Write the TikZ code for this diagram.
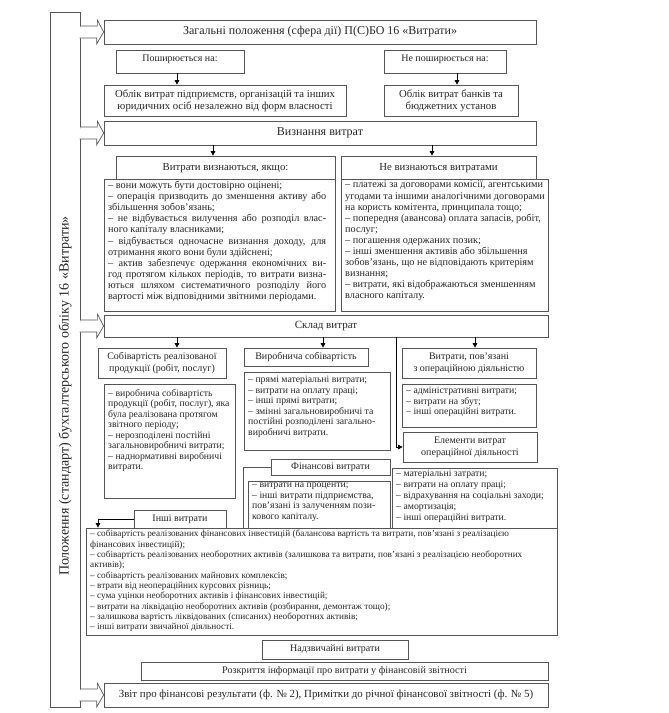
\documentclass[tikz,border=0pt]{standalone}
\usepackage{fontspec}
\setmainfont{Liberation Serif}
\usetikzlibrary{arrows.meta}
\definecolor{lc}{HTML}{555555}
\definecolor{tc}{HTML}{262626}
\newcommand{\mkbox}[7][]{\node[bx,minimum width={#5pt-#3pt},minimum height={#6pt-#4pt},#1] (#2) at ({(#3+#5)/2},{(#4+#6)/2}) {#7};}
\newcommand{\jl}[1]{\makebox[218pt][s]{#1}}
\newcommand{\blockarr}[1]{\draw[blk] (bar.east |- #1.west) ++(0,-6) -- ++(17,0) -- ++(0,-6) -- (#1.west) -- ++(-7,12) -- ++(0,-6) -- ++(-17,0);}
\begin{document}
\begin{tikzpicture}[x=1pt,y=-1pt,
 bx/.style={draw=lc,line width=0.7pt,fill=white,inner sep=0pt,text=tc,align=center},
 blk/.style={draw=lc,line width=0.7pt,fill=white},
 ln/.style={draw=lc,line width=0.7pt},
 arr/.style={draw=black,line width=0.7pt,-{Triangle[length=4.5pt,width=4.5pt]}},
 ttl/.style={font=\fontsize{12}{13.5}\selectfont},
 sk/.style={font=\fontsize{11}{13}\selectfont},
 hd/.style={font=\fontsize{10.75}{12}\selectfont},
 sh/.style={font=\fontsize{10}{11.7}\selectfont},
 zv/.style={font=\fontsize{10.9}{12}\selectfont},
 rz/.style={font=\fontsize{10.1}{12}\selectfont},
 tx/.style={inner sep=0pt,text=tc,anchor=north west,align=left},
 lsa/.style={tx,font=\fontsize{10.25}{11.1}\selectfont},
 lsb/.style={tx,font=\fontsize{9.75}{10.5}\selectfont},
 lse/.style={tx,font=\fontsize{9.75}{11}\selectfont},
 lsc/.style={tx,font=\fontsize{9.25}{10.33}\selectfont},
]
\useasboundingbox (0,0) rectangle (669,713);

% left bar
\mkbox{bar}{50}{12}{80}{707}{}
\node[text=tc,rotate=90,font=\fontsize{14}{16}\selectfont] (bart) at (65,396) {Положення (стандарт) бухгалтерського обліку 16 «Витрати»};

% section 1
\mkbox[ttl]{top}{104}{20}{536}{44}{Загальні положення (сфера дії) П(С)БО 16 «Витрати»}
\mkbox{posh}{116}{50}{244}{73}{}
\node[sh,text=tc] (posht) at (180,59) {Поширюється на:};
\mkbox{neposh}{384}{50}{506}{73}{}
\node[sh,text=tc] (neposht) at (445,59) {Не поширюється на:};
\mkbox[hd]{ob1}{104}{85}{346}{116}{Облік витрат підприємств, організацій та інших\\юридичних осіб незалежно від форм власності}
\mkbox[hd]{ob2}{384}{85}{518}{116}{Облік витрат банків та\\бюджетних установ}
\coordinate (xa) at (177,0);
\coordinate (xb) at (457,0);
\draw[arr] (posh.south -| xa) -- (ob1.north -| xa);
\draw[arr] (neposh.south -| xb) -- (ob2.north -| xb);

% section 2
\mkbox[ttl]{vyzn}{104}{121}{536}{145}{Визнання витрат}
\mkbox[hd]{h1}{116}{156}{335}{180}{Витрати визнаються, якщо:}
\mkbox[hd]{h2}{341}{156}{536}{180}{Не визнаються витратами}
\mkbox{l1}{104}{179}{335}{311}{}
\mkbox{l2}{341}{179}{548}{311}{}
\coordinate (xc) at (213,0);
\coordinate (xd) at (432,0);
\draw[arr] (vyzn.south -| xc) -- (h1.north -| xc);
\draw[arr] (vyzn.south -| xd) -- (h2.north -| xd);
\node[lsa] (l1t) at (108,181) {– вони можуть бути достовірно оцінені;\\
\jl{– операція призводить до зменшення активу або}\\
збільшення зобов’язань;\\
\jl{– не відбувається вилучення або розподіл влас-}\\
ного капіталу власниками;\\
\jl{– відбувається одночасне визнання доходу, для}\\
отримання якого вони були здійснені;\\
\jl{– актив забезпечує одержання економічних ви-}\\
\jl{год протягом кількох періодів, то витрати визна-}\\
\jl{ються шляхом систематичного розподілу його}\\
вартості між відповідними звітними періодами.};
\node[lsa] (l2t) at (345,181) {– платежі за договорами комісії, агентськими\\
угодами та іншими аналогічними договорами\\
на користь комітента, принципала тощо;\\
– попередня (авансова) оплата запасів, робіт,\\
послуг;\\
– погашення одержаних позик;\\
– інші зменшення активів або збільшення\\
зобов’язань, що не відповідають критеріям\\
визнання;\\
– витрати, які відображаються зменшенням\\
власного капіталу.};

% section 3
\mkbox[sk]{sklad}{104}{315}{548}{337}{Склад витрат}
\mkbox[sh]{sob}{98}{348}{226}{378}{Собівартість реалізованої\\продукції (робіт, послуг)}
\mkbox[sh]{vyr}{244}{348}{368}{366}{Виробнича собівартість}
\mkbox[sh]{op}{402}{348}{536}{378}{Витрати, пов’язані\\з операційною діяльністю}
\coordinate (xg) at (177,0);
\coordinate (xh) at (323,0);
\coordinate (xi) at (475,0);
\coordinate (xf) at (396,0);
\draw[arr] (sklad.south -| xg) -- (sob.north -| xg);
\draw[arr] (sklad.south -| xh) -- (vyr.north -| xh);
\draw[arr] (sklad.south -| xi) -- (op.north -| xi);

\mkbox{sobl}{104}{384}{235}{498}{}
\node[lsb] (soblt) at (108,389) {– виробнича собівартість\\продукції (робіт, послуг), яка\\була реалізована протягом\\звітного періоду;\\– нерозподілені постійні\\загальновиробничі витрати;\\– наднормативні виробничі\\витрати.};
\mkbox{vyrl}{244}{372}{390}{450}{}
\node[lsb] (vyrlt) at (248,376) {– прямі матеріальні витрати;\\– витрати на оплату праці;\\– інші прямі витрати;\\– змінні загальновиробничі та\\постійні розподілені загально-\\виробничі витрати.};
\mkbox{opl}{402}{384}{536}{427}{}
\node[lsb] (oplt) at (406,387) {– адміністративні витрати;\\– витрати на збут;\\– інші операційні витрати.};

\mkbox[sh]{elem}{403}{432}{537}{462}{Елементи витрат\\операційної діяльності}
\draw[arr] (sklad.south -| xf) |- (elem.west);

\mkbox[sh]{fin}{271}{459}{390}{475}{Фінансові витрати}
\mkbox{eleml}{392}{468}{557}{528}{}
\node[lse] (elemlt) at (396,470) {– матеріальні затрати;\\– витрати на оплату праці;\\– відрахування на соціальні заходи;\\– амортизація;\\– інші операційні витрати.};
\mkbox{finl}{248}{481}{390}{528}{}
\node[lsb] (finlt) at (252,483) {– витрати на проценти;\\– інші витрати підприємства,\\пов’язані із залученням пози-\\кового капіталу.};

\mkbox[sh]{insh}{134}{510}{226}{528}{Інші витрати}
\mkbox{big}{86}{528}{557}{635}{}
\draw[ln] (fin.west) -| (big.north -| vyrl.west);
\coordinate (xe) at (98,0);
\draw[arr] (insh.west) -| (big.north -| xe);
\node[lsc] (bigt) at (90,530) {– собівартість реалізованих фінансових інвестицій (балансова вартість та витрати, пов’язані з реалізацією\\фінансових інвестицій);\\– собівартість реалізованих необоротних активів (залишкова та витрати, пов’язані з реалізацією необоротних\\активів);\\– собівартість реалізованих майнових комплексів;\\– втрати від неопераційних курсових різниць;\\– сума уцінки необоротних активів і фінансових інвестицій;\\– витрати на ліквідацію необоротних активів (розбирання, демонтаж тощо);\\– залишкова вартість ліквідованих (списаних) необоротних активів;\\– інші витрати звичайної діяльності.};

\mkbox[sh]{nadz}{262}{640}{408}{659}{Надзвичайні витрати}
\mkbox[rz]{rozkr}{141}{662}{548}{680}{Розкриття інформації про витрати у фінансовій звітності}
\mkbox[zv]{zvit}{104}{683}{548}{707}{Звіт про фінансові результати (ф. № 2), Примітки до річної фінансової звітності (ф. № 5)}

% block arrows from the bar
\blockarr{top}
\blockarr{vyzn}
\blockarr{sklad}
\blockarr{zvit}
\end{tikzpicture}
\end{document}
